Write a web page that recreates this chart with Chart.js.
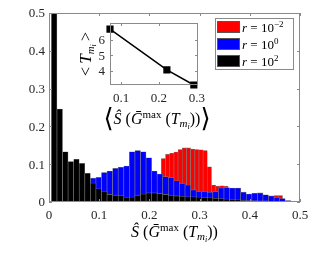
<!DOCTYPE html>
<html>
<head>
<meta charset="utf-8">
<script src="https://cdn.jsdelivr.net/npm/chart.js@4.4.0/dist/chart.umd.min.js"></script>
<style>
html, body { margin: 0; padding: 0; background: #fff; }
#wrap { position: relative; width: 316px; height: 253px; }
#main { position: absolute; left: 0; top: 0; }
#inset { position: absolute; left: 60px; top: 8px; }
</style>
</head>
<body>
<div id="wrap">
  <canvas id="main" width="316" height="253"></canvas>
  <canvas id="inset" width="165" height="128"></canvas>
</div>
<script>
// Bin centres shared by the r = 10^0 and r = 10^2 histograms
var binCenters = [0.0103, 0.0214, 0.0325, 0.0436, 0.0547, 0.0658, 0.0769, 0.0880, 0.0990, 0.1101,
  0.1212, 0.1323, 0.1434, 0.1545, 0.1656, 0.1767, 0.1878, 0.1989, 0.2099, 0.2210,
  0.2321, 0.2432, 0.2543, 0.2654, 0.2765, 0.2876, 0.2987, 0.3098, 0.3208, 0.3319,
  0.3430, 0.3541, 0.3652, 0.3763, 0.3874, 0.3985, 0.4096, 0.4207, 0.4317, 0.4428,
  0.4539, 0.4650, 0.4761];

// r = 10^2 (black)
var blackValues = [0.62, 0.246, 0.133, 0.107, 0.113, 0.102, 0.076, 0.05, 0.035, 0.027,
  0.02, 0.018, 0.017, 0.011, 0.013, 0.018, 0.021, 0.024, 0.024, 0.022,
  0.02, 0.018, 0.016, 0.015, 0.014, 0.014, 0.013, 0.012, 0.011, 0.01,
  0.009, 0.008, 0.007, 0.006, 0.005, 0.004, 0.004, 0.003, 0.003, 0.002,
  0.002, 0.001, 0.001];

// r = 10^0 (blue)
var blueValues = [0, 0, 0.002, 0.005, 0.012, 0.02, 0.035, 0.063, 0.065, 0.078,
  0.082, 0.089, 0.092, 0.095, 0.133, 0.136, 0.133, 0.117, 0.082, 0.074,
  0.067, 0.065, 0.056, 0.049, 0.045, 0.032, 0.027, 0.027, 0.026, 0.028,
  0.037, 0.038, 0.037, 0.037, 0.026, 0.021, 0.023, 0.024, 0.019, 0.016,
  0.012, 0.009, 0.004];

// r = 10^-2 (red) has its own, narrower bins
var redCenters = [0.1780, 0.1863, 0.1946, 0.2030, 0.2113, 0.2196, 0.2280, 0.2363, 0.2446, 0.2530,
  0.2613, 0.2696, 0.2779, 0.2862, 0.2946, 0.3029, 0.3112, 0.3195, 0.3278, 0.3362,
  0.3445, 0.3528, 0.3611, 0.3694, 0.3778, 0.3861, 0.3944, 0.4027, 0.4110, 0.4194,
  0.4277, 0.4360, 0.4443, 0.4526, 0.4610];
var redValues = [0.02, 0.04, 0.055, 0.058, 0.06, 0.06, 0.115, 0.126, 0.129, 0.132,
  0.139, 0.143, 0.143, 0.140, 0.139, 0.138, 0.136, 0.093, 0.045, 0.042,
  0.043, 0.042, 0.036, 0.033, 0.025, 0.022, 0.02, 0.021, 0.022, 0.02,
  0.018, 0.015, 0.015, 0.017, 0.017];

// legend entries
var seriesColors = ['#ff0000', '#0000ff', '#000000'];
var rExponents = ['\u22122', '0', '2'];

// main axes ticks
var xTickVals = [0, 0.1, 0.2, 0.3, 0.4, 0.5];
var xTickLabels = ['0', '0.1', '0.2', '0.3', '0.4', '0.5'];
var yTickVals = [0, 0.1, 0.2, 0.3, 0.4, 0.5];
var yTickLabels = ['0', '0.1', '0.2', '0.3', '0.4', '0.5'];

// inset: mean S versus mean T for each r
var insetX = [0.071, 0.221, 0.292];
var insetY = [6.7, 4.05, 3.06];
var insetXTickVals = [0.1, 0.2, 0.3];
var insetXTickLabels = ['0.1', '0.2', '0.3'];
var insetYTickVals = [4, 5, 6];
var insetYTickLabels = ['4', '5', '6'];

var SERIF = "'Liberation Serif', 'DejaVu Serif', serif";
var AXIS_GRAY = '#8a8a8a';

// draw a row of text pieces [text, font, dy]
function drawRuns(ctx, runs, x, y, align) {
    var w = 0;
    runs.forEach(function(r) { ctx.font = r[1]; w += ctx.measureText(r[0]).width; });
    var cx = align === 'center' ? x - w / 2 : x;
    ctx.textAlign = 'left';
    ctx.textBaseline = 'alphabetic';
    runs.forEach(function(r) {
        ctx.font = r[1];
        ctx.fillText(r[0], cx, y + r[2]);
        cx += ctx.measureText(r[0]).width;
    });
}

function sRuns(size) {
    var big = size + 'px ' + SERIF;
    var it = 'italic ' + size + 'px ' + SERIF;
    var sm = Math.round(size * 0.66) + 'px ' + SERIF;
    return [
        ['\u015C', it, 0], [' (', big, 0], ['\u1E20', it, 0],
        ['max', sm, -6],
        [' (', big, 0], ['T', it, 0],
        ['m', 'italic ' + sm, 3],
        ['i', 'italic ' + Math.round(size * 0.47) + 'px ' + SERIF, 5],
        ['))', big, 0]
    ];
}

// box round the plot, ticks pointing inwards and the tick labels
var boxTicks = {
    id: 'boxTicks',
    beforeDraw: function(chart, args, opts) {
        if (!opts.fill) return;
        var a = chart.chartArea;
        chart.ctx.save();
        chart.ctx.fillStyle = '#fff';
        chart.ctx.fillRect(a.left, a.top, a.width, a.height);
        chart.ctx.restore();
    },
    afterDatasetsDraw: function(chart, args, opts) {
        var ctx = chart.ctx, a = chart.chartArea, len = opts.len || 3;
        var xs = chart.scales.x, ys = chart.scales.y;
        ctx.save();
        ctx.strokeStyle = AXIS_GRAY;
        ctx.lineWidth = 1;
        ctx.beginPath();
        xs.ticks.forEach(function(t) {
            var px = Math.round(xs.getPixelForValue(t.value)) + 0.5;
            ctx.moveTo(px, a.bottom); ctx.lineTo(px, a.bottom - len);
            ctx.moveTo(px, a.top); ctx.lineTo(px, a.top + len);
        });
        ys.ticks.forEach(function(t) {
            var py = Math.round(ys.getPixelForValue(t.value)) + 0.5;
            ctx.moveTo(a.left, py); ctx.lineTo(a.left + len, py);
            ctx.moveTo(a.right, py); ctx.lineTo(a.right - len, py);
        });
        ctx.stroke();
        ctx.strokeRect(Math.round(a.left) + 0.5, Math.round(a.top) + 0.5,
                       Math.round(a.width) - 1, Math.round(a.height) - 1);

        ctx.fillStyle = '#262626';
        ctx.font = '13px ' + SERIF;
        ctx.textBaseline = 'middle';
        ctx.textAlign = 'center';
        xs.ticks.forEach(function(t, i) {
            ctx.fillText(opts.xLabels[i], xs.getPixelForValue(t.value), a.bottom + opts.xGap);
        });
        ctx.textAlign = 'right';
        ys.ticks.forEach(function(t, i) {
            ctx.fillText(opts.yLabels[i], a.left - opts.yGap, ys.getPixelForValue(t.value) + 1);
        });
        ctx.restore();
    }
};

// legend and axis title of the main chart
var mainText = {
    id: 'mainText',
    afterDraw: function(chart) {
        var ctx = chart.ctx, a = chart.chartArea;
        ctx.save();
        ctx.fillStyle = '#000';
        drawRuns(ctx, sRuns(16), (a.left + a.right) / 2, 237, 'center');

        // legend box
        var lx = 215, ly = 18, lw = 78, lh = 51;
        ctx.fillStyle = '#fff';
        ctx.fillRect(lx, ly, lw, lh);
        ctx.strokeStyle = AXIS_GRAY;
        ctx.strokeRect(lx + 0.5, ly + 0.5, lw, lh);
        seriesColors.forEach(function(c, i) {
            var ry = ly + 3 + i * 17;
            ctx.fillStyle = c;
            ctx.fillRect(lx + 2, ry, 23, 12);
            ctx.strokeStyle = '#555';
            ctx.strokeRect(lx + 2.5, ry + 0.5, 22, 11);
            ctx.fillStyle = '#000';
            drawRuns(ctx, [
                ['r', 'italic 13px ' + SERIF, 0],
                [' = 10', '13px ' + SERIF, 0],
                [rExponents[i], '9px ' + SERIF, -5]
            ], lx + 27, ry + 10.5, 'left');
        });
        ctx.restore();
    }
};

var barStyle = { borderColor: '#7a7a7a', borderWidth: 0.6, barPercentage: 1, categoryPercentage: 1, grouped: false };

var mainChart = new Chart(document.getElementById('main').getContext('2d'), {
    type: 'bar',
    data: {
        datasets: [
            Object.assign({
                label: 'r = 10^-2', xAxisID: 'xr', order: 3, backgroundColor: seriesColors[0],
                data: redCenters.map(function(x, i) { return { x: x, y: redValues[i] }; })
            }, barStyle),
            Object.assign({
                label: 'r = 10^0', xAxisID: 'x', order: 2, backgroundColor: seriesColors[1],
                data: binCenters.map(function(x, i) { return { x: x, y: blueValues[i] }; })
            }, barStyle),
            Object.assign({
                label: 'r = 10^2', xAxisID: 'x', order: 1, backgroundColor: seriesColors[2],
                data: binCenters.map(function(x, i) { return { x: x, y: blackValues[i] }; })
            }, barStyle)
        ]
    },
    options: {
        responsive: false,
        animation: false,
        layout: { padding: { top: 13, right: 16, left: 0, bottom: 0 } },
        scales: {
            x: {
                type: 'linear', min: 0, max: 0.5, offset: false,
                grid: { display: false }, border: { display: false },
                afterBuildTicks: function(ax) { ax.ticks = xTickVals.map(function(v) { return { value: v }; }); },
                afterFit: function(ax) { ax.height = 51; },
                ticks: { display: false }
            },
            xr: { type: 'linear', min: 0, max: 0.5, offset: false, display: false },
            y: {
                min: 0, max: 0.5,
                grid: { display: false }, border: { display: false },
                afterBuildTicks: function(ax) { ax.ticks = yTickVals.map(function(v) { return { value: v }; }); },
                afterFit: function(ax) { ax.width = 49; },
                ticks: { display: false }
            }
        },
        plugins: {
            legend: { display: false },
            tooltip: { enabled: false },
            boxTicks: { len: 3, xLabels: xTickLabels, yLabels: yTickLabels, xGap: 14, yGap: 4 }
        }
    },
    plugins: [boxTicks, mainText]
});

// inset titles
var insetText = {
    id: 'insetText',
    afterDraw: function(chart) {
        var ctx = chart.ctx, a = chart.chartArea;
        ctx.save();
        ctx.fillStyle = '#000';
        var runs = [['\u27E8', '26px ' + SERIF, 3]].concat(sRuns(16), [['\u27E9', '26px ' + SERIF, 3]]);
        drawRuns(ctx, runs, (a.left + a.right) / 2 + 3, 116, 'center');
        ctx.translate(31, (a.top + a.bottom) / 2);
        ctx.rotate(-Math.PI / 2);
        drawRuns(ctx, [
            ['<', '16px ' + SERIF, 0], ['\u2009', '16px ' + SERIF, 0],
            ['T', 'italic 17px ' + SERIF, 0],
            ['m', 'italic 11px ' + SERIF, 3],
            ['i', 'italic 8px ' + SERIF, 5],
            ['\u2009', '16px ' + SERIF, 0], ['>', '16px ' + SERIF, 0]
        ], 0, 0, 'center');
        ctx.restore();
    }
};

var insetChart = new Chart(document.getElementById('inset').getContext('2d'), {
    type: 'line',
    data: {
        datasets: [{
            data: insetX.map(function(x, i) { return { x: x, y: insetY[i] }; }),
            borderColor: '#000', backgroundColor: '#000', borderWidth: 1.5,
            pointStyle: 'rect', pointRadius: 4, clip: false, tension: 0
        }]
    },
    options: {
        responsive: false,
        animation: false,
        layout: { padding: { top: 15, right: 27, left: 0, bottom: 0 } },
        scales: {
            x: {
                type: 'linear', min: 0.071, max: 0.303,
                grid: { display: false }, border: { display: false },
                afterBuildTicks: function(ax) { ax.ticks = insetXTickVals.map(function(v) { return { value: v }; }); },
                afterFit: function(ax) { ax.height = 51; },
                ticks: { display: false }
            },
            y: {
                type: 'linear', min: 3.06, max: 7.1,
                grid: { display: false }, border: { display: false },
                afterBuildTicks: function(ax) { ax.ticks = insetYTickVals.map(function(v) { return { value: v }; }); },
                afterFit: function(ax) { ax.width = 50; },
                ticks: { display: false }
            }
        },
        plugins: {
            legend: { display: false },
            tooltip: { enabled: false },
            boxTicks: { len: 3, fill: true, xLabels: insetXTickLabels, yLabels: insetYTickLabels, xGap: 14, yGap: 5 }
        }
    },
    plugins: [boxTicks, insetText]
});
</script>
</body>
</html>
